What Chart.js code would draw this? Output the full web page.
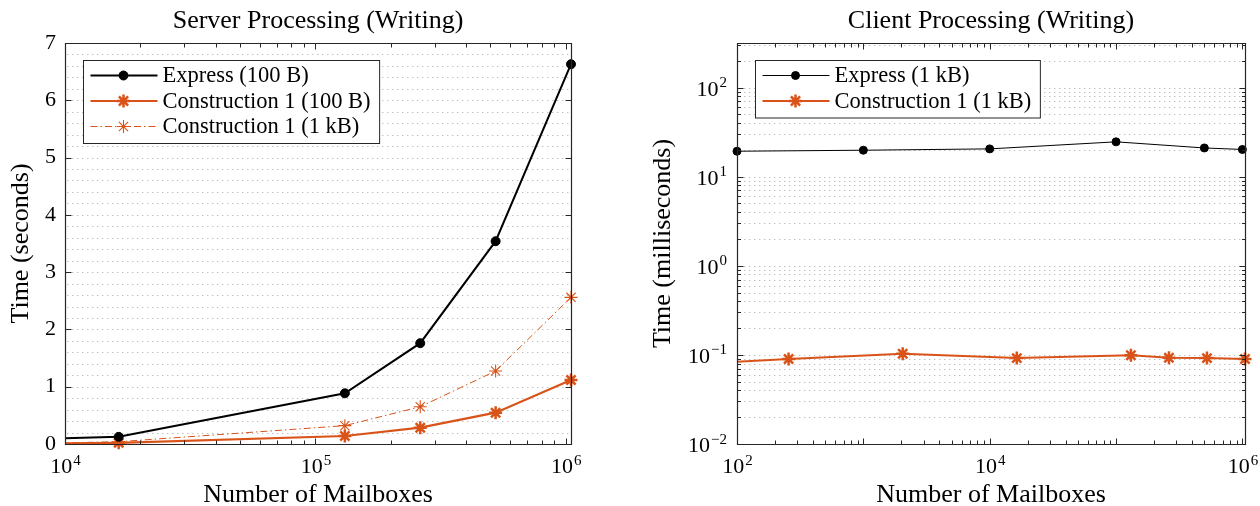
<!DOCTYPE html>
<html>
<head>
<meta charset="utf-8">
<script src="https://cdn.jsdelivr.net/npm/chart.js@4.4.1/dist/chart.umd.min.js"></script>
<style>
  html, body { margin: 0; padding: 0; background: #fff; }
  .wrap { position: absolute; top: 0; width: 630px; height: 506px; }
  #leftWrap { left: 0; }
  #rightWrap { left: 630px; }
</style>
</head>
<body>
<div class="wrap" id="leftWrap"><canvas id="serverChart" width="630" height="506"></canvas></div>
<div class="wrap" id="rightWrap"><canvas id="clientChart" width="630" height="506"></canvas></div>
<script>
// server side (left panel), times in seconds
const serverMailboxes = [8192, 16384, 131072, 262144, 524288, 1048576];
const serverExpress100 = [0.09, 0.125, 0.885, 1.76, 3.54, 6.63];
const serverC1_100 = [0.008, 0.02, 0.14, 0.285, 0.547, 1.117];
const serverC1_1k = [0.012, 0.04, 0.32, 0.65, 1.274, 2.56];
const serverXTicks = [1e4, 1e5, 1e6];
const serverYTicks = [0, 1, 2, 3, 4, 5, 6, 7];

// client side (right panel), times in milliseconds
const clientExpressMailboxes = [100, 1000, 10000, 100000, 500000, 1000000];
const clientExpress1k = [19.3, 19.8, 20.5, 24.6, 21.0, 20.2];
const clientC1Mailboxes = [32, 256, 2048, 16384, 131072, 262144, 524288, 1048576];
const clientC1_1k = [0.077, 0.090, 0.103, 0.092, 0.099, 0.093, 0.092, 0.090];
const clientXTicks = [1e2, 1e4, 1e6];
const clientYTicks = [1e-2, 1e-1, 1, 10, 100];

const ORANGE = '#D95319';
const SERIF = '"Liberation Serif", "DejaVu Serif", serif';

function pts(xs, ys){
  return xs.map((x, i) => ({x: x, y: ys[i]}));
}

// log decade helpers for tick marks / grid
function logMinor(fromExp, toExp, lo, hi){
  const out = [];
  for (let e = fromExp; e <= toExp; e++) {
    for (let k = 2; k <= 9; k++) {
      const v = k * Math.pow(10, e);
      if (v > lo && v < hi) out.push(v);
    }
  }
  return out;
}
function logMajor(fromExp, toExp){
  const out = [];
  for (let e = fromExp; e <= toExp; e++) out.push(Math.pow(10, e));
  return out;
}

// "10" with a raised exponent, baseline at y
function drawPow(ctx, v, x, y, align){
  const e = Math.round(Math.log10(v));
  const exp = String(e).replace('-', '\u2212');
  ctx.font = '22px ' + SERIF;
  const bw = ctx.measureText('10').width;
  ctx.font = '15px ' + SERIF;
  const ew = ctx.measureText(exp).width;
  const left = align === 'center' ? x - (bw + ew) / 2 : x - (bw + ew + 1);
  ctx.fillStyle = '#000';
  ctx.textAlign = 'left';
  ctx.textBaseline = 'alphabetic';
  ctx.font = '22px ' + SERIF;
  ctx.fillText('10', left, y);
  ctx.font = '15px ' + SERIF;
  ctx.fillText(exp, left + bw + 1, y - 8.5);
}

// matlab-ish axes: dotted horizontal grid, box, inward ticks, legend inside
const matlabAxes = {
  id: 'matlabAxes',
  beforeDatasetsDraw(chart, args, opts){
    const ctx = chart.ctx;
    const a = chart.chartArea;
    const y = chart.scales.y;
    ctx.save();
    ctx.strokeStyle = 'rgba(0,0,0,0.25)';
    ctx.lineWidth = 1;
    ctx.setLineDash([1.4, 3.6]);
    opts.yGrid.forEach(v => {
      const py = Math.round(y.getPixelForValue(v)) + 0.5;
      ctx.beginPath();
      ctx.moveTo(a.left + 2, py);
      ctx.lineTo(a.right - 1, py);
      ctx.stroke();
    });
    ctx.restore();
  },
  afterDraw(chart, args, opts){
    const ctx = chart.ctx;
    const a = chart.chartArea;
    const xs = chart.scales.x, ys = chart.scales.y;
    const L = Math.round(a.left) + 0.5, R = Math.round(a.right) + 0.5;
    const T = Math.round(a.top) + 0.5, B = Math.round(a.bottom) + 0.5;
    ctx.save();
    ctx.strokeStyle = '#262626';
    ctx.lineWidth = 1.2;
    ctx.beginPath();
    ctx.rect(L, T, R - L, B - T);
    ctx.stroke();

    ctx.lineWidth = 1;
    const xMark = (vals, len) => vals.forEach(v => {
      const px = Math.round(xs.getPixelForValue(v)) + 0.5;
      ctx.beginPath();
      ctx.moveTo(px, B); ctx.lineTo(px, B - len);
      ctx.moveTo(px, T); ctx.lineTo(px, T + len);
      ctx.stroke();
    });
    const yMark = (vals, len) => vals.forEach(v => {
      const py = Math.round(ys.getPixelForValue(v)) + 0.5;
      ctx.beginPath();
      ctx.moveTo(L, py); ctx.lineTo(L + len, py);
      ctx.moveTo(R, py); ctx.lineTo(R - len, py);
      ctx.stroke();
    });
    xMark(opts.xMajor, 6);
    xMark(opts.xMinor, 4);
    yMark(opts.yMajor, 6);
    yMark(opts.yMinor || [], 3.5);

    // power-of-ten tick labels
    (opts.xPowLabels || []).forEach(v => drawPow(ctx, v, xs.getPixelForValue(v), a.bottom + 29, 'center'));
    (opts.yPowLabels || []).forEach(v => drawPow(ctx, v, a.left - 10, ys.getPixelForValue(v) + 8, 'right'));

    // legend
    const sets = chart.data.datasets;
    ctx.font = '22.5px ' + SERIF;
    let tw = 0;
    sets.forEach(d => { tw = Math.max(tw, ctx.measureText(d.label).width); });
    const bx = Math.round(a.left + 18) + 0.5, by = Math.round(a.top + 17) + 0.5;
    const pitch = 25.5;
    const bw = 79 + tw + 9, bh = 30 + pitch * (sets.length - 1) + 2;
    ctx.fillStyle = '#fff';
    ctx.fillRect(bx, by, bw, bh);
    ctx.strokeStyle = '#262626';
    ctx.lineWidth = 1;
    ctx.strokeRect(bx, by, bw, bh);
    sets.forEach((d, i) => {
      const cy = by + 15 + i * pitch;
      ctx.strokeStyle = d.borderColor;
      ctx.lineWidth = d.borderWidth;
      ctx.setLineDash(d.borderDash || []);
      ctx.beginPath();
      ctx.moveTo(bx + 7, cy); ctx.lineTo(bx + 74, cy);
      ctx.stroke();
      ctx.setLineDash([]);
      ctx.fillStyle = d.pointBackgroundColor;
      ctx.strokeStyle = d.pointBorderColor;
      ctx.lineWidth = d.pointBorderWidth;
      Chart.helpers.drawPoint(ctx, {pointStyle: d.pointStyle, radius: d.pointRadius, rotation: 0, borderWidth: d.pointBorderWidth}, bx + 40, cy);
      ctx.fillStyle = '#000';
      ctx.textBaseline = 'middle';
      ctx.textAlign = 'left';
      ctx.font = '22.5px ' + SERIF;
      ctx.fillText(d.label, bx + 79, cy + 1);
    });
    ctx.restore();
  }
};

function axisTitle(text, pad, lh){
  return {display: true, text: text, color: '#000', font: {family: SERIF, size: 26, lineHeight: lh}, padding: pad};
}

function baseOptions(cfg){
  return {
    responsive: false,
    animation: false,
    devicePixelRatio: 1,
    layout: {padding: {left: 0, right: cfg.padRight, top: 0, bottom: 0}},
    plugins: {
      legend: {display: false},
      tooltip: {enabled: false},
      title: {display: true, text: cfg.title, color: '#000', fullSize: false,
        font: {family: SERIF, size: 26, weight: 'normal', lineHeight: 1},
        padding: {top: 8, bottom: 9}},
      matlabAxes: cfg.axes
    },
    scales: {
      x: {
        type: 'logarithmic', min: cfg.xMin, max: cfg.xMax,
        grid: {display: false, drawTicks: false}, border: {display: false},
        afterBuildTicks: s => { s.ticks = cfg.xTicks.map(v => ({value: v})); },
        afterFit: s => { s.height = 62; },
        ticks: {display: false, autoSkip: false, maxRotation: 0},
        title: axisTitle('Number of Mailboxes', {top: 0, bottom: 0}, 0.85)
      },
      y: {
        type: cfg.yType, min: cfg.yMin, max: cfg.yMax,
        grid: {display: false, drawTicks: false}, border: {display: false},
        afterBuildTicks: s => { s.ticks = cfg.yTicks.map(v => ({value: v})); },
        afterFit: s => { s.width = cfg.yWidth; },
        ticks: {display: cfg.yType === 'linear', autoSkip: false, padding: 9, color: '#000',
          font: {family: SERIF, size: 22}},
        title: axisTitle(cfg.yTitle, {top: cfg.yTitlePad, bottom: 0}, 1)
      }
    }
  };
}

// left: server processing
const serverGrid = [];
for (let i = 1; i < 35; i++) serverGrid.push(i * 0.2);

new Chart(document.getElementById('serverChart'), {
  type: 'line',
  data: {
    datasets: [
      {label: 'Express (100 B)', data: pts(serverMailboxes, serverExpress100),
        borderColor: '#000', borderWidth: 2, pointStyle: 'circle', pointRadius: 4.5,
        pointBackgroundColor: '#000', pointBorderColor: '#000', pointBorderWidth: 1,
        clip: {left: 0, right: 10, top: 10, bottom: 10}},
      {label: 'Construction 1 (100 B)', data: pts(serverMailboxes, serverC1_100),
        borderColor: ORANGE, borderWidth: 2.2, pointStyle: 'star', pointRadius: 6.5,
        pointBackgroundColor: ORANGE, pointBorderColor: ORANGE, pointBorderWidth: 2.5,
        clip: {left: 0, right: 10, top: 10, bottom: 10}},
      {label: 'Construction 1 (1 kB)', data: pts(serverMailboxes, serverC1_1k),
        borderColor: ORANGE, borderWidth: 1, borderDash: [7, 3, 1.5, 3], pointStyle: 'star', pointRadius: 6.5,
        pointBackgroundColor: ORANGE, pointBorderColor: ORANGE, pointBorderWidth: 1.1,
        clip: {left: 0, right: 10, top: 10, bottom: 10}}
    ]
  },
  options: baseOptions({
    title: 'Server Processing (Writing)', padRight: 59,
    xMin: 1e4, xMax: 1048576, xTicks: serverXTicks,
    yType: 'linear', yMin: 0, yMax: 7, yTicks: serverYTicks, yWidth: 65,
    yTitle: 'Time (seconds)', yTitlePad: 8,
    axes: {yGrid: serverGrid, yMajor: serverYTicks, yMinor: [],
      xMajor: logMajor(4, 6), xMinor: logMinor(4, 5, 1e4, 1048576),
      xPowLabels: serverXTicks}
  }),
  plugins: [matlabAxes]
});

// right: client processing
const clientGrid = [];
for (let e = -2; e <= 2; e++) {
  for (let k = 1; k <= 9; k++) {
    const v = k * Math.pow(10, e);
    if (v > 0.01 && v < 316) clientGrid.push(v);
  }
}

new Chart(document.getElementById('clientChart'), {
  type: 'line',
  data: {
    datasets: [
      {label: 'Express (1 kB)', data: pts(clientExpressMailboxes, clientExpress1k),
        borderColor: '#000', borderWidth: 1, pointStyle: 'circle', pointRadius: 4,
        pointBackgroundColor: '#000', pointBorderColor: '#000', pointBorderWidth: 1,
        clip: {left: 6, right: 10, top: 10, bottom: 10}},
      {label: 'Construction 1 (1 kB)', data: pts(clientC1Mailboxes, clientC1_1k),
        borderColor: ORANGE, borderWidth: 2, pointStyle: 'star', pointRadius: 6.5,
        pointBackgroundColor: ORANGE, pointBorderColor: ORANGE, pointBorderWidth: 2.5,
        clip: {left: 0, right: 10, top: 10, bottom: 10}}
    ]
  },
  options: baseOptions({
    title: 'Client Processing (Writing)', padRight: 15,
    xMin: 100, xMax: 1048576, xTicks: clientXTicks,
    yType: 'logarithmic', yMin: 0.01, yMax: Math.pow(10, 2.5), yTicks: clientYTicks, yWidth: 107,
    yTitle: 'Time (milliseconds)', yTitlePad: 20,
    axes: {yGrid: clientGrid, yMajor: logMajor(-2, 2), yMinor: logMinor(-2, 2, 0.01, 316),
      xMajor: logMajor(2, 6), xMinor: logMinor(2, 5, 100, 1048576),
      xPowLabels: clientXTicks, yPowLabels: clientYTicks}
  }),
  plugins: [matlabAxes]
});
</script>
</body>
</html>
